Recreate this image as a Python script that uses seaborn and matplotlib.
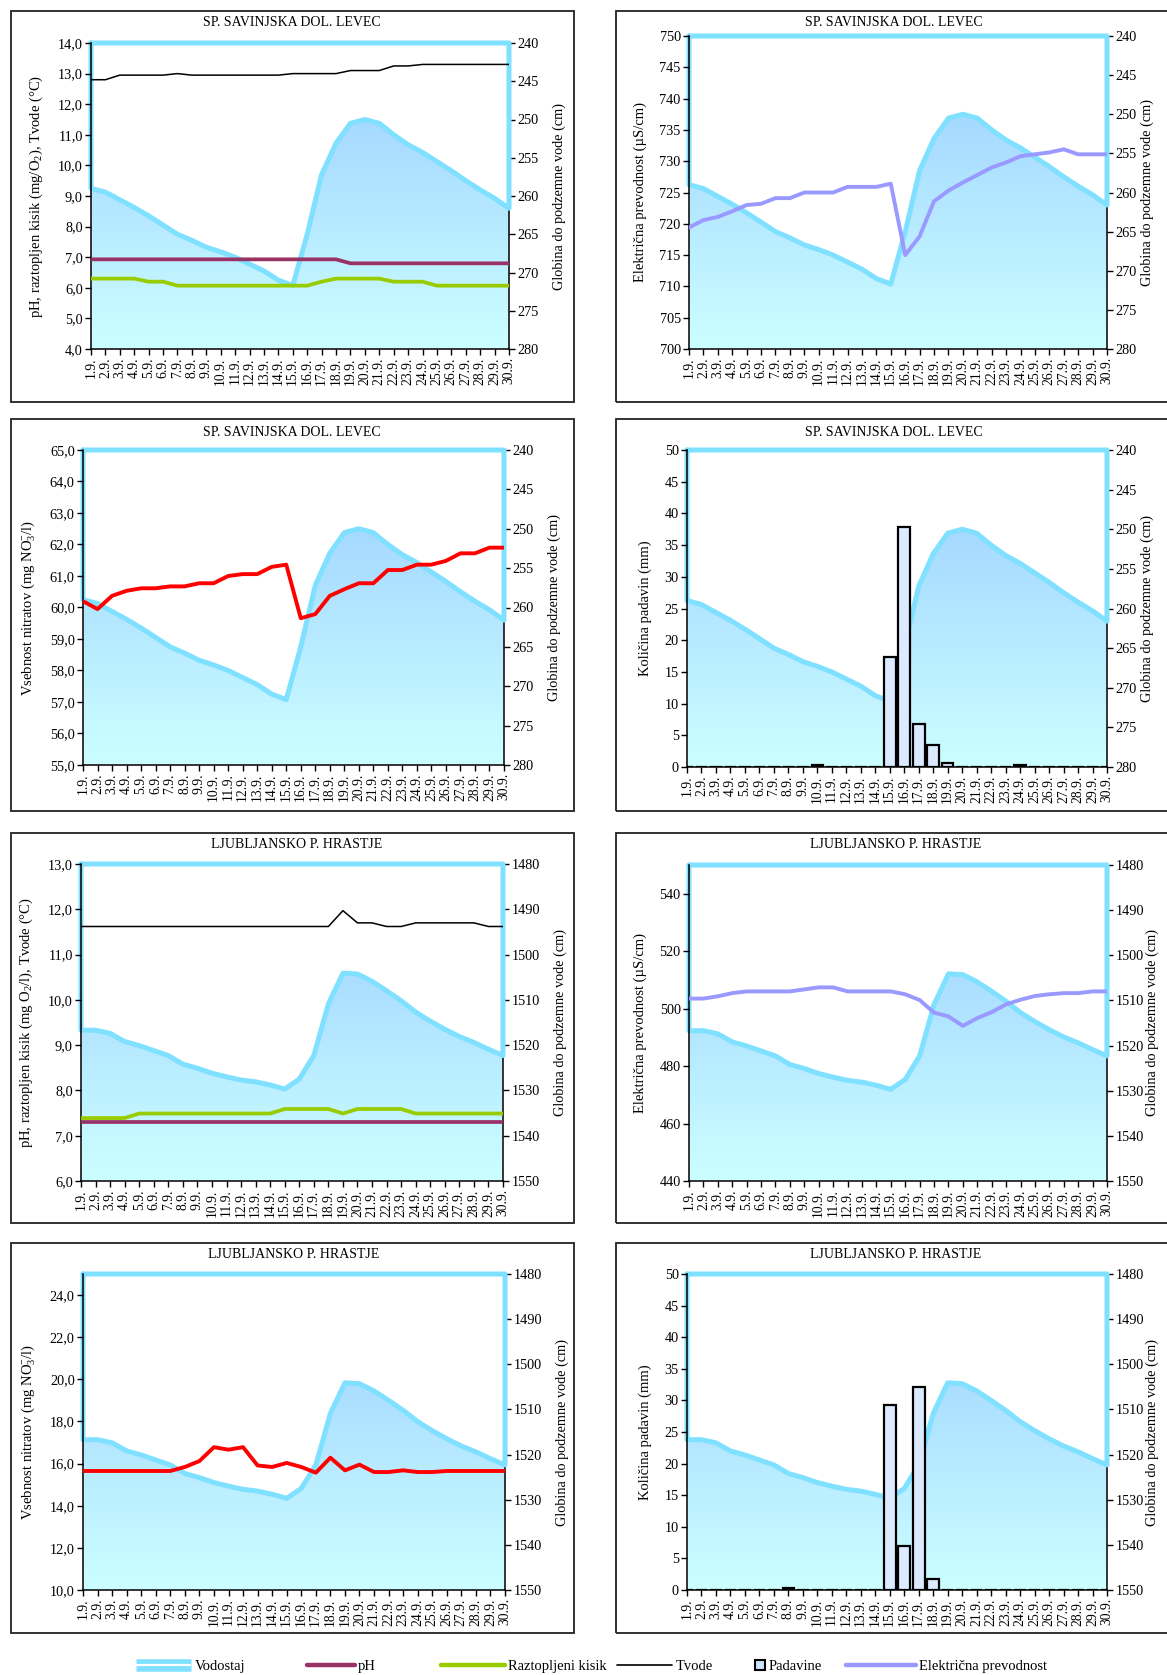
import numpy as np
import matplotlib
matplotlib.use("Agg")
import matplotlib.pyplot as plt
import seaborn as sns
from matplotlib.lines import Line2D
from matplotlib.patches import Rectangle
from matplotlib.colors import LinearSegmentedColormap
from matplotlib.ticker import FuncFormatter, MultipleLocator, FixedLocator

# ---- data -------------------------------------------------------------
days = [f"{d}.9." for d in range(1, 31)]

# Savinjska dolina - Levec
levec_depth = [259.0, 259.5, 260.5, 261.5, 262.6, 263.8, 265.0, 265.8, 266.7, 267.3,
               268.0, 268.9, 269.8, 271.0, 271.7, 265.0, 257.2, 253.1, 250.5, 250.0,
               250.5, 252.0, 253.3, 254.3, 255.5, 256.7, 258.0, 259.2, 260.3, 261.6]
levec_tvode = [12.8, 12.8, 12.95, 12.95, 12.95, 12.95, 13.0, 12.95, 12.95, 12.95,
               12.95, 12.95, 12.95, 12.95, 13.0, 13.0, 13.0, 13.0, 13.1, 13.1,
               13.1, 13.25, 13.25, 13.3, 13.3, 13.3, 13.3, 13.3, 13.3, 13.3]
levec_ph = [6.93, 6.93, 6.93, 6.93, 6.93, 6.93, 6.93, 6.93, 6.93, 6.93,
            6.93, 6.93, 6.93, 6.93, 6.93, 6.93, 6.93, 6.93, 6.8, 6.8,
            6.8, 6.8, 6.8, 6.8, 6.8, 6.8, 6.8, 6.8, 6.8, 6.8]
levec_o2 = [6.3, 6.3, 6.3, 6.3, 6.2, 6.2, 6.07, 6.07, 6.07, 6.07,
            6.07, 6.07, 6.07, 6.07, 6.07, 6.07, 6.2, 6.3, 6.3, 6.3,
            6.3, 6.2, 6.2, 6.2, 6.07, 6.07, 6.07, 6.07, 6.07, 6.07]
levec_ec = [719.4, 720.6, 721.1, 722.0, 723.0, 723.2, 724.1, 724.1, 725.0, 725.0,
            725.0, 725.9, 725.9, 725.9, 726.4, 715.0, 718.0, 723.6, 725.3, 726.6,
            727.8, 729.0, 729.8, 730.8, 731.1, 731.4, 731.9, 731.1, 731.1, 731.1]
levec_no3 = [60.2, 59.95, 60.37, 60.53, 60.61, 60.61, 60.67, 60.67, 60.77, 60.77,
             61.0, 61.06, 61.06, 61.29, 61.36, 59.66, 59.79, 60.37, 60.58, 60.77,
             60.77, 61.19, 61.19, 61.36, 61.36, 61.48, 61.72, 61.72, 61.9, 61.9]
levec_rain = [0, 0, 0, 0, 0, 0, 0, 0, 0, 0.3,
              0, 0, 0, 0, 17.4, 37.9, 6.8, 3.5, 0.7, 0,
              0, 0, 0, 0.3, 0, 0, 0, 0, 0, 0]

# Ljubljansko polje - Hrastje
hrastje_depth = [1516.7, 1516.7, 1517.4, 1519.2, 1520.1, 1521.2, 1522.3, 1524.2, 1525.1, 1526.2,
                 1527.0, 1527.7, 1528.1, 1528.8, 1529.7, 1527.5, 1522.3, 1510.9, 1504.1, 1504.3,
                 1505.9, 1508.0, 1510.2, 1512.7, 1514.7, 1516.5, 1518.1, 1519.4, 1520.9, 1522.3]
hrastje_tvode = [11.62, 11.62, 11.62, 11.62, 11.62, 11.62, 11.62, 11.62, 11.62, 11.62,
                 11.62, 11.62, 11.62, 11.62, 11.62, 11.62, 11.62, 11.62, 11.97, 11.7,
                 11.7, 11.62, 11.62, 11.7, 11.7, 11.7, 11.7, 11.7, 11.62, 11.62]
hrastje_ph = [7.3, 7.3, 7.3, 7.3, 7.3, 7.3, 7.3, 7.3, 7.3, 7.3,
              7.3, 7.3, 7.3, 7.3, 7.3, 7.3, 7.3, 7.3, 7.3, 7.3,
              7.3, 7.3, 7.3, 7.3, 7.3, 7.3, 7.3, 7.3, 7.3, 7.3]
hrastje_o2 = [7.39, 7.39, 7.39, 7.39, 7.49, 7.49, 7.49, 7.49, 7.49, 7.49,
              7.49, 7.49, 7.49, 7.49, 7.59, 7.59, 7.59, 7.59, 7.49, 7.59,
              7.59, 7.59, 7.59, 7.49, 7.49, 7.49, 7.49, 7.49, 7.49, 7.49]
hrastje_ec = [503.5, 503.5, 504.3, 505.4, 506.0, 506.0, 506.0, 506.0, 506.7, 507.4,
              507.4, 506.0, 506.0, 506.0, 506.0, 505.0, 503.0, 498.6, 497.3, 494.0,
              496.7, 498.8, 501.5, 503.1, 504.4, 505.0, 505.4, 505.4, 506.0, 506.0]
hrastje_no3 = [15.65, 15.65, 15.65, 15.65, 15.65, 15.65, 15.65, 15.84, 16.12, 16.78,
               16.66, 16.78, 15.91, 15.84, 16.03, 15.84, 15.57, 16.28, 15.68, 15.95,
               15.6, 15.6, 15.68, 15.6, 15.6, 15.65, 15.65, 15.65, 15.65, 15.65]
hrastje_rain = [0, 0, 0, 0, 0, 0, 0, 0.3, 0, 0,
                0, 0, 0, 0, 29.2, 7.0, 32.1, 1.7, 0, 0,
                0, 0, 0, 0, 0, 0, 0, 0, 0, 0]

# ---- style --------------------------------------------------------------
sns.set_theme(style="ticks", rc={"axes.edgecolor": "black", "text.color": "black",
                                 "xtick.color": "black", "ytick.color": "black",
                                 "axes.labelcolor": "black"})
plt.rcParams["font.family"] = ["Liberation Serif", "DejaVu Serif"]
plt.rcParams["mathtext.fontset"] = "custom"
plt.rcParams["mathtext.rm"] = "Liberation Serif"
plt.rcParams["mathtext.it"] = "Liberation Serif:italic"

CYAN = "#80e0ff"
PH_C = "#993366"
O2_C = "#99cc00"
EC_C = "#9999ff"
NO3_C = "#ff0000"
BAR_C = "#dbeaff"
grad_cmap = LinearSegmentedColormap.from_list("vod", ["#99ccff", "#ccffff"])

W, H = 1167, 1675
fig = plt.figure(figsize=(W / 100, H / 100), dpi=100)
fig.patch.set_facecolor("white")

comma = FuncFormatter(lambda v, p: f"{v:.1f}".replace(".", ","))
plain = FuncFormatter(lambda v, p: f"{v:.0f}")
x = np.arange(len(days))


def frame(x0, y0, x1, y1):
    fig.add_artist(Rectangle((x0 / W, 1 - y1 / H), (x1 - x0) / W, (y1 - y0) / H,
                             transform=fig.transFigure, fill=False,
                             edgecolor="#222222", lw=1.3))


def panel(box, title, title_xy, depth, dlim, dstep, ylim, yticks, fmt, ylabel, rpad=10):
    l, t, r, b = box
    ax = fig.add_axes([l / W, 1 - b / H, (r - l) / W, (b - t) / H])
    ax2 = ax.twinx()
    ax.set_zorder(ax2.get_zorder() + 1)
    ax.patch.set_visible(False)

    lo, hi = dlim  # lo = bottom (deep), hi = top
    poly = ax2.fill_between(x, depth, lo, facecolor="none", edgecolor="none")
    grad = np.linspace(0, 1, 256).reshape(-1, 1)
    im = ax2.imshow(grad, cmap=grad_cmap, extent=[x[0], x[-1], lo, hi],
                    aspect="auto", origin="upper", zorder=1, interpolation="bilinear")
    im.set_clip_path(poly.get_paths()[0], transform=ax2.transData)
    ax2.plot(np.r_[x[0], x, x[-1], x[0]], np.r_[hi, depth, hi, hi],
             color=CYAN, lw=3.6, clip_on=False, zorder=3, solid_joinstyle="round")
    ax2.set_ylim(lo, hi)
    ax2.yaxis.set_major_locator(MultipleLocator(dstep))
    ax2.yaxis.set_major_formatter(plain)
    ax2.set_ylabel("Globina do podzemne vode (cm)", fontsize=10.3, labelpad=rpad)

    ax.set_ylim(*ylim)
    ax.yaxis.set_major_locator(FixedLocator(yticks))
    ax.yaxis.set_major_formatter(fmt)
    ax.set_ylabel(ylabel, fontsize=10.5, labelpad=9)

    for a in (ax, ax2):
        a.spines["top"].set_visible(False)
        a.tick_params(direction="out", length=4, width=1, labelsize=10.3, pad=2)
    ax.spines["right"].set_visible(False)
    ax2.spines["left"].set_visible(False)
    ax2.spines["bottom"].set_visible(False)
    ax2.spines["right"].set_linewidth(1.1)
    ax.spines["left"].set_linewidth(1.1)
    ax.spines["bottom"].set_linewidth(1.1)

    fig.text(title_xy[0] / W, 1 - title_xy[1] / H, title, ha="center", va="center",
             fontsize=10)
    return ax, ax2


def finish_x(ax):
    ax.set_xlim(x[0], x[-1])
    ax.set_xticks(x)
    ax.set_xticklabels(days, rotation=90, fontsize=9.8)
    ax.set_xlabel("")


def line(ax, vals, color, lw):
    sns.lineplot(x=x, y=vals, ax=ax, color=color, lw=lw, estimator=None,
                 solid_joinstyle="round", zorder=4)


def bars(ax, vals):
    sns.barplot(x=x, y=vals, ax=ax, color=BAR_C, saturation=1, width=0.8,
                edgecolor="black", linewidth=1.6, zorder=4)


# frames
for fy in [(11, 402), (419, 811), (833, 1223), (1243, 1633)]:
    frame(11, fy[0], 574, fy[1])
    frame(616, fy[0], 1200, fy[1])

LEV = "SP. SAVINJSKA DOL. LEVEC"
HRA = "LJUBLJANSKO P. HRASTJE"
lab_o2_lev = "pH, raztopljen kisik (mg/O$_2$), Tvode (°C)"
lab_o2_hra = "pH, raztopljen kisik (mg O$_2$/l), Tvode (°C)"
lab_ec = "Električna prevodnost (µS/cm)"
lab_no3 = "Vsebnost nitratov (mg NO$_3^{-}$/l)"
lab_rain = "Količina padavin (mm)"

# Panel 1
ax, ax2 = panel((91, 43, 509, 349), LEV, (292, 22), levec_depth, (280, 240), 5,
                (4, 14), np.arange(4, 14.1, 1), comma, lab_o2_lev)
line(ax, levec_tvode, "black", 1.1)
line(ax, levec_ph, PH_C, 2.7)
line(ax, levec_o2, O2_C, 2.7)
finish_x(ax)

# Panel 2
ax, ax2 = panel((689, 36, 1107, 349), LEV, (894, 22), levec_depth, (280, 240), 5,
                (700, 750), np.arange(700, 751, 5), plain, lab_ec, rpad=3)
line(ax, levec_ec, EC_C, 2.8)
finish_x(ax)

# Panel 3
ax, ax2 = panel((83, 450, 504, 765), LEV, (292, 433), levec_depth, (280, 240), 5,
                (55, 65), np.arange(55, 65.1, 1), comma, lab_no3)
line(ax, levec_no3, NO3_C, 2.8)
finish_x(ax)

# Panel 4
ax, ax2 = panel((687, 450, 1107, 767), LEV, (894, 433), levec_depth, (280, 240), 5,
                (0, 50), np.arange(0, 51, 5), plain, lab_rain, rpad=3)
bars(ax, levec_rain)
finish_x(ax)

# Panel 5
ax, ax2 = panel((81, 864, 503, 1181), HRA, (297, 845), hrastje_depth, (1550, 1480), 10,
                (6, 13), np.arange(6, 13.1, 1), comma, lab_o2_hra)
line(ax, hrastje_tvode, "black", 1.1)
line(ax, hrastje_o2, O2_C, 2.7)
line(ax, hrastje_ph, PH_C, 2.7)
finish_x(ax)

# Panel 6
ax, ax2 = panel((689, 865, 1107, 1181), HRA, (896, 845), hrastje_depth, (1550, 1480), 10,
                (440, 550), np.arange(440, 541, 20), plain, lab_ec, rpad=1)
line(ax, hrastje_ec, EC_C, 2.8)
finish_x(ax)

# Panel 7
ax, ax2 = panel((83, 1274, 505, 1590), HRA, (294, 1255), hrastje_depth, (1550, 1480), 10,
                (10, 25), np.arange(10, 24.1, 2), comma, lab_no3)
line(ax, hrastje_no3, NO3_C, 2.8)
finish_x(ax)

# Panel 8
ax, ax2 = panel((687, 1274, 1107, 1590), HRA, (896, 1255), hrastje_depth, (1550, 1480), 10,
                (0, 50), np.arange(0, 51, 5), plain, lab_rain, rpad=1)
bars(ax, hrastje_rain)
finish_x(ax)

# legend: one entry per position, as in the reference
legend_items = [
    ((Line2D([], [], color=CYAN, lw=9, solid_capstyle="butt"),
      Line2D([], [], color="white", lw=1.6, solid_capstyle="butt")), "Vodostaj", 136, 3.8),
    (Line2D([], [], color=PH_C, lw=3.2), "pH", 307, 3.3),
    (Line2D([], [], color=O2_C, lw=3.2), "Raztopljeni kisik", 441, 4.4),
    (Line2D([], [], color="black", lw=1.2), "Tvode", 617, 3.8),
    (Line2D([], [], marker="s", ls="none", mfc="#cce0ff", mec="black", mew=1.5, ms=7),
     "Padavine", 755, 0.7),
    (Line2D([], [], color=EC_C, lw=3.2), "Električna prevodnost", 846, 4.8),
]
for h, lab, x0, hl in legend_items:
    fig.legend([h], [lab], loc="center left", bbox_to_anchor=(x0 / W, 1 - 1666 / H),
               frameon=False, fontsize=10.5, handlelength=hl, handletextpad=0.2,
               borderpad=0, borderaxespad=0)

fig.savefig("out.png", dpi=100, facecolor="white")
